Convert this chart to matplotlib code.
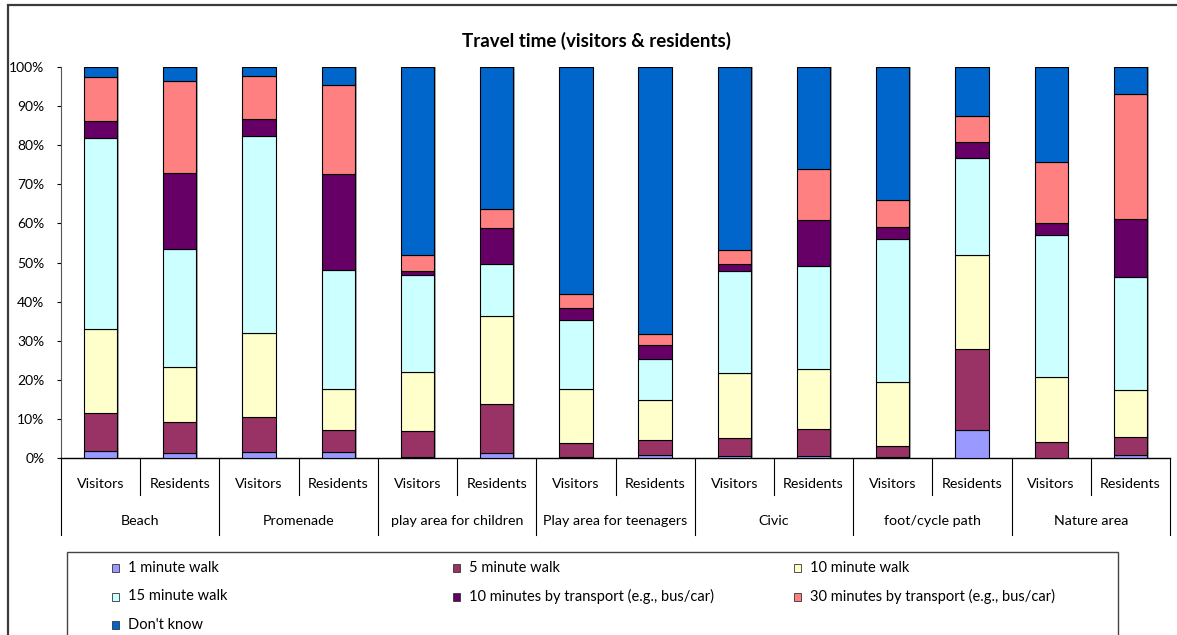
import matplotlib
matplotlib.use('Agg')
import matplotlib.pyplot as plt
import matplotlib.patheffects as pe
from matplotlib.patches import Rectangle
import numpy as np

plt.rcParams['font.family'] = ['Lato', 'DejaVu Sans']

# Survey data: share of answers (%) per travel-time band
places = ['Beach', 'Promenade', 'play area for children', 'Play area for teenagers',
          'Civic', 'foot/cycle path', 'Nature area']
groups = ['Visitors', 'Residents']

series = ['1 minute walk', '5 minute walk', '10 minute walk', '15 minute walk',
          '10 minutes by transport (e.g., bus/car)', '30 minutes by transport (e.g., bus/car)',
          "Don't know"]
colors = ['#9999FF', '#993366', '#FFFFCC', '#CCFFFF', '#660066', '#FF8080', '#0066CC']

# one value per bar, order: Beach V, Beach R, Promenade V, Promenade R, ...
walk_1 = [1.8, 1.3, 1.5, 1.6, 0.3, 1.4, 0.2, 0.7, 0.6, 0.4, 0.2, 7.2, 0.0, 0.7]
walk_5 = [9.7, 8.0, 9.0, 5.6, 6.7, 12.5, 3.7, 3.9, 4.4, 7.0, 2.8, 20.6, 4.2, 4.6]
walk_10 = [21.6, 13.9, 21.4, 10.5, 14.9, 22.4, 13.7, 10.3, 16.7, 15.3, 16.5, 24.1, 16.5, 12.0]
walk_15 = [48.8, 30.3, 50.4, 30.3, 24.8, 13.3, 17.7, 10.3, 26.1, 26.4, 36.6, 24.9, 36.3, 29.1]
trans_10 = [4.4, 19.4, 4.3, 24.7, 1.2, 9.1, 3.1, 3.7, 1.8, 11.8, 3.0, 4.1, 3.0, 14.7]
trans_30 = [11.2, 23.4, 11.1, 22.7, 4.1, 5.0, 3.5, 2.9, 3.5, 12.9, 7.0, 6.5, 15.6, 32.0]
dont_know = [2.5, 3.7, 2.3, 4.6, 48.0, 36.3, 58.1, 68.2, 46.9, 26.2, 33.9, 12.6, 24.4, 6.9]

values = [walk_1, walk_5, walk_10, walk_15, trans_10, trans_30, dont_know]

W, H = 1177, 635
fig = plt.figure(figsize=(W / 100, H / 100), dpi=100)
ax = fig.add_axes([61 / W, 1 - 458 / H, (1170 - 61) / W, (458 - 67) / H])
ax_h = 458 - 67

shadow = [pe.SimplePatchShadow(offset=(1.2, 0), shadow_rgbFace='#808080', alpha=0.7),
          pe.Normal()]

x = np.arange(len(places) * len(groups))
bottom = np.zeros(len(x))
for name, vals, col in zip(series, values, colors):
    vals = np.array(vals)
    bars = ax.bar(x, vals, 0.42, bottom=bottom, color=col, edgecolor='black',
                  linewidth=0.8, label=name, zorder=3)
    for b in bars:
        b.set_path_effects(shadow)
    bottom += vals

ax.set_xlim(-0.5, len(x) - 0.5)
ax.set_ylim(0, 100)
ax.set_yticks(np.arange(0, 101, 10))
ax.set_yticklabels([f'{v}%' for v in range(0, 101, 10)], fontsize=10)
ax.tick_params(axis='y', length=3, width=0.8, pad=9)
ax.set_xticks([])
for s in ['top', 'right']:
    ax.spines[s].set_visible(False)
ax.spines['left'].set_color('#555555')
ax.spines['bottom'].set_linewidth(1.0)

# two-level category axis drawn below the bars
tr = ax.get_xaxis_transform()
def below(px):
    return -px / ax_h

for i, xi in enumerate(x):
    ax.text(xi, below(26), groups[i % 2], transform=tr, ha='center', va='center',
            fontsize=10.3)
for k in range(len(places)):
    ax.text(2 * k + 0.5, below(63), places[k], transform=tr, ha='center', va='center',
            fontsize=10.3)
    ax.plot([2 * k + 0.5] * 2, [0, below(37)], transform=tr, color='black', lw=0.8,
            clip_on=False)
for k in range(len(places) + 1):
    ax.plot([2 * k - 0.5] * 2, [0, below(77)], transform=tr, color='black', lw=0.8,
            clip_on=False)

fig.text(596 / W, 1 - 41 / H, 'Travel time (visitors & residents)', ha='center',
         va='center', fontsize=13.5, fontweight='bold')

# outer chart frame (runs past the right and bottom edge)
fig.patches.append(Rectangle((8 / W, -0.05), 1.1, 1 - 5 / H + 0.05, transform=fig.transFigure,
                             fill=False, edgecolor='#3a3a3a', linewidth=1.6))

# legend box, laid out three entries per row
fig.patches.append(Rectangle((67 / W, -0.05), (1118 - 67) / W, 0.05 + (H - 552) / H,
                             transform=fig.transFigure, fill=False, edgecolor='#444444',
                             linewidth=1.0))
for i, (name, col) in enumerate(zip(series, colors)):
    r, c = divmod(i, 3)
    lx = 112 + c * 341
    ly = 568 + r * 28.5
    fig.patches.append(Rectangle((lx / W, 1 - (ly + 4) / H), 7 / W, 8 / H,
                                 transform=fig.transFigure, facecolor=col,
                                 edgecolor='#333333', linewidth=0.6))
    fig.text((lx + 16) / W, 1 - ly / H, name, ha='left', va='center', fontsize=10.5)

fig.savefig('out.png', dpi=100)
